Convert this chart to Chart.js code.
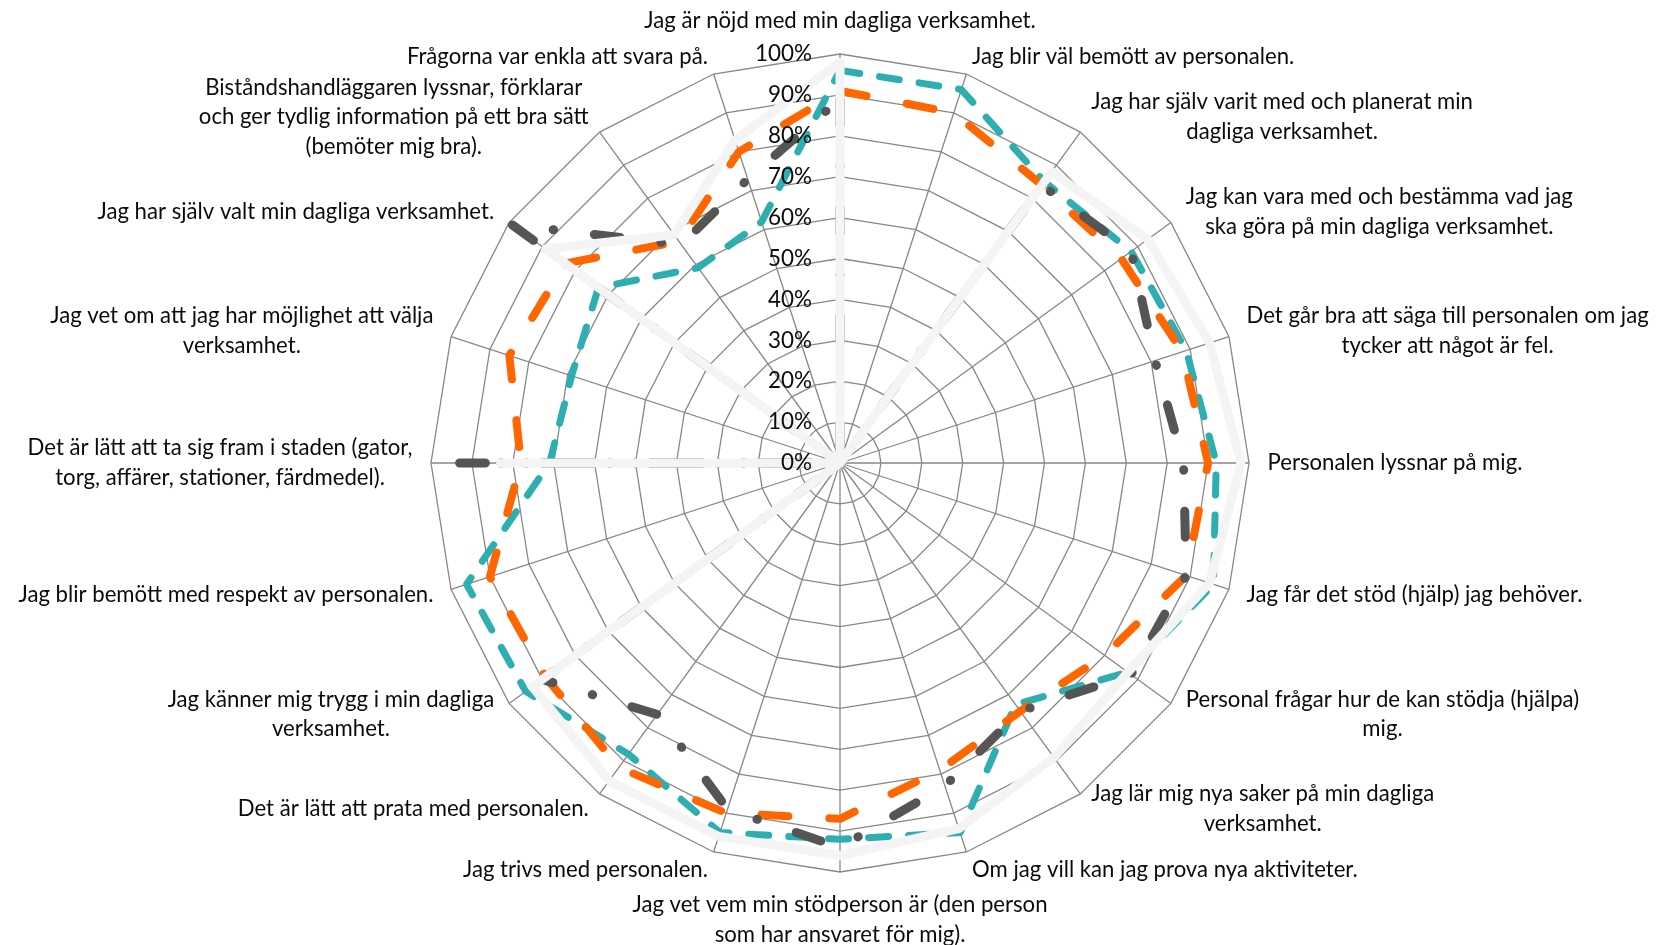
<!DOCTYPE html>
<html lang="sv">
<head>
<meta charset="utf-8">
<title>Brukarundersökning – daglig verksamhet</title>
<script src="https://cdn.jsdelivr.net/npm/chart.js@4/dist/chart.umd.min.js"></script>
<style>
  html, body { margin: 0; padding: 0; background: #ffffff; }
  canvas { display: block; }
</style>
</head>
<body>
<canvas id="radar" width="1656" height="945"></canvas>
<script>
// Questions, clockwise from the top spoke
const categories = [
  'Jag är nöjd med min dagliga verksamhet.',
  'Jag blir väl bemött av personalen.',
  ['Jag har själv varit med och planerat min', 'dagliga verksamhet.'],
  ['Jag kan vara med och bestämma vad jag', 'ska göra på min dagliga verksamhet.'],
  ['Det går bra att säga till personalen om jag', 'tycker att något är fel.'],
  'Personalen lyssnar på mig.',
  'Jag får det stöd (hjälp) jag behöver.',
  ['Personal frågar hur de kan stödja (hjälpa)', 'mig.'],
  ['Jag lär mig nya saker på min dagliga', 'verksamhet.'],
  'Om jag vill kan jag prova nya aktiviteter.',
  ['Jag vet vem min stödperson är (den person', 'som har ansvaret för mig).'],
  'Jag trivs med personalen.',
  'Det är lätt att prata med personalen.',
  ['Jag känner mig trygg i min dagliga', 'verksamhet.'],
  'Jag blir bemött med respekt av personalen.',
  ['Det är lätt att ta sig fram i staden (gator,', 'torg, affärer, stationer, färdmedel).'],
  ['Jag vet om att jag har möjlighet att välja', 'verksamhet.'],
  'Jag har själv valt min dagliga verksamhet.',
  ['Biståndshandläggaren lyssnar, förklarar', 'och ger tydlig information på ett bra sätt', '(bemöter mig bra).'],
  'Frågorna var enkla att svara på.'
];

// Share of positive answers (%) per question
const serie1 = [96, 96, 85, 88, 89, 92, 96, 87, 73, 95, 92, 95, 88, 95, 96, 71, 69, 73, 59, 62];
const serie2 = [91, 90, 84, 85, 88, 90, 89, 80, 75, 79, 87, 90, 92, 89, 90, 78, 85, 83, 67, 80];
const serie3 = [89, 0, 84, 88, 81, 84, 89, 88, 75, 83, 94, 89, 76, 90, 0, 93, 0, 99, 66, 73];
const serie4 = [98, 0, 88, 93, 95, 98, 95, 87, 89, 94, 96, 96, 96, 93, 0, 83, 0, 89, 69, 83];

// Radial axis ticks
const tickValues = [0, 10, 20, 30, 40, 50, 60, 70, 80, 90, 100];
const tickLabels = ['0%', '10%', '20%', '30%', '40%', '50%', '60%', '70%', '80%', '90%', '100%'];

const GRID_COLOR = '#878787';
const TEXT_COLOR = '#0b0b0b';
const FONT_FAMILY = 'Lato, "Open Sans", sans-serif';
const LABEL_GAP = 18.5;     // distance from outer ring to label box
const LINE_HEIGHT = 29.6;   // spacing of wrapped label lines
const TICK_GAP = 28;        // tick labels sit left of the top spoke

// Pick a font size that gives a given text a given width
function fittedSize(ctx, sample, targetWidth) {
  ctx.save();
  ctx.font = '100px ' + FONT_FAMILY;
  const w = ctx.measureText(sample).width;
  ctx.restore();
  return 100 * targetWidth / w;
}

const textPlugin = {
  id: 'spokeText',
  afterDraw(chart) {
    const scale = chart.scales.r;
    const ctx = chart.ctx;
    const labelSize = fittedSize(ctx, 'Personalen lyssnar på mig.', 255);
    const tickSize = fittedSize(ctx, '100%', 57);

    ctx.save();
    ctx.fillStyle = TEXT_COLOR;
    ctx.textBaseline = 'middle';

    // Question labels around the web
    ctx.font = labelSize.toFixed(2) + 'px ' + FONT_FAMILY;
    ctx.textAlign = 'center';
    categories.forEach((lab, i) => {
      const lines = Array.isArray(lab) ? lab : [lab];
      const p = scale.getPointPosition(i, scale.drawingArea + LABEL_GAP);
      const boxW = Math.max(...lines.map(l => ctx.measureText(l).width));
      const boxH = lines.length * LINE_HEIGHT;
      const dx = p.x - scale.xCenter;
      const dy = p.y - scale.yCenter;
      let cx, top;
      if (Math.abs(dx) < 1) {
        cx = p.x;
        top = dy < 0 ? p.y - boxH : p.y;
      } else {
        cx = dx > 0 ? p.x + boxW / 2 : p.x - boxW / 2;
        top = p.y - boxH / 2;
      }
      lines.forEach((l, k) => ctx.fillText(l, cx, top + LINE_HEIGHT * (k + 0.5)));
    });

    // Percentage ticks along the top spoke
    ctx.font = tickSize.toFixed(2) + 'px ' + FONT_FAMILY;
    ctx.textAlign = 'right';
    tickValues.forEach((v, k) => {
      const d = scale.getDistanceFromCenterForValue(v);
      ctx.fillText(tickLabels[k], scale.xCenter - TICK_GAP, scale.yCenter - d);
    });
    ctx.restore();
  }
};

const lineStyle = {
  fill: false,
  pointRadius: 0,
  pointHoverRadius: 0,
  borderCapStyle: 'round',
  borderJoinStyle: 'round',
  tension: 0
};

new Chart(document.getElementById('radar'), {
  type: 'radar',
  data: {
    labels: categories,
    datasets: [
      Object.assign({}, lineStyle, {
        label: 'Grupp 1', data: serie1, order: 4,
        borderColor: '#2DAEB0', borderWidth: 7, borderDash: [20, 20]
      }),
      Object.assign({}, lineStyle, {
        label: 'Grupp 2', data: serie2, order: 3,
        borderColor: '#FF6600', borderWidth: 8, borderDash: [27, 41]
      }),
      Object.assign({}, lineStyle, {
        label: 'Grupp 3', data: serie3, order: 2,
        borderColor: '#555555', borderWidth: 9, borderDash: [26, 41, 0.5, 41]
      }),
      Object.assign({}, lineStyle, {
        label: 'Grupp 4', data: serie4, order: 1,
        borderColor: '#F4F4F4', borderWidth: 9
      })
    ]
  },
  options: {
    responsive: false,
    devicePixelRatio: 1,
    animation: false,
    events: [],
    layout: { padding: { left: 431, right: 407, top: 54, bottom: 73 } },
    plugins: {
      legend: { display: false },
      tooltip: { enabled: false }
    },
    scales: {
      r: {
        min: 0,
        max: 100,
        startAngle: 0,
        ticks: { display: false, stepSize: 10 },
        grid: { color: GRID_COLOR, lineWidth: 1.3 },
        angleLines: { color: GRID_COLOR, lineWidth: 1.3 },
        pointLabels: { display: false }
      }
    }
  },
  plugins: [textPlugin]
});
</script>
</body>
</html>
